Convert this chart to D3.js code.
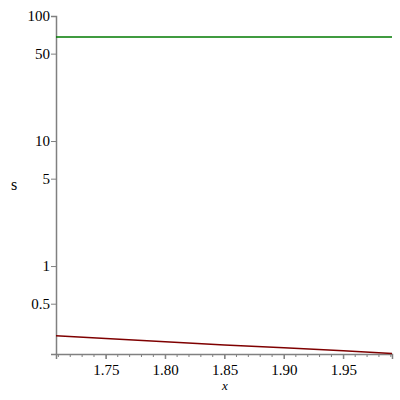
<!DOCTYPE html>
<html><head><meta charset="utf-8">
<script src="https://cdn.jsdelivr.net/npm/d3@7"></script>
</head><body style="margin:0">
<script>
const xVals = [1.708, 1.75, 1.80, 1.85, 1.90, 1.95, 1.991];
const redVals = [0.277, 0.263, 0.248, 0.234, 0.222, 0.210, 0.200];
const greenVals = [67.9, 67.9, 67.9, 67.9, 67.9, 67.9, 67.9];
const xTicks = [1.75, 1.80, 1.85, 1.90, 1.95];
const yTicks = [0.5, 1, 5, 10, 50, 100];
const xDomain = [1.708, 1.991];
const yDomain = [0.198, 100];

const W = 400, H = 400;
const FONT = "Times New Roman";
const svg = d3.select("body").append("svg").attr("width", W).attr("height", H)
  .attr("font-family", FONT);
const x = d3.scaleLinear().domain(xDomain).range([56, 392]);
const y = d3.scaleLog().domain(yDomain).range([354, 16]);
const axisColor = "#808080";

// minor x ticks every 0.01
const minor = d3.range(171, 200).map(d => d / 100);
svg.append("g").selectAll("line").data(minor).join("line")
  .attr("x1", d => x(d)).attr("x2", d => x(d))
  .attr("y1", 354).attr("y2", d => xTicks.some(t => Math.abs(t - d) < 1e-9) ? 359 : 357)
  .attr("stroke", axisColor).attr("stroke-width", 1);

// x axis
const gx = svg.append("g").attr("transform", "translate(0,354)")
  .call(d3.axisBottom(x).tickValues(xTicks).tickFormat(d3.format(".2f")).tickSize(5).tickPadding(5));
gx.attr("font-family", FONT).attr("font-size", 15);
gx.select(".domain").attr("stroke", axisColor).attr("stroke-width", 1.5);
gx.selectAll(".tick line").attr("stroke", axisColor);
gx.selectAll("text").attr("fill", "#000").attr("font-family", FONT).attr("font-size", 15);

// y axis
const gy = svg.append("g").attr("transform", "translate(56,0)")
  .call(d3.axisLeft(y).tickValues(yTicks).tickFormat(d => String(d)).tickSize(5).tickPadding(1));
gy.attr("font-family", FONT).attr("font-size", 15);
gy.select(".domain").attr("stroke", axisColor).attr("stroke-width", 1.5);
gy.selectAll(".tick line").attr("stroke", axisColor);
gy.selectAll("text").attr("fill", "#000").attr("font-family", FONT).attr("font-size", 15);

// lines
const line = vals => d3.line().x((d, i) => x(xVals[i])).y(d => y(d))(vals);
svg.append("path").attr("d", line(greenVals)).attr("fill", "none")
  .attr("stroke", "#007a00").attr("stroke-width", 1.5);
svg.append("path").attr("d", line(redVals)).attr("fill", "none")
  .attr("stroke", "#7f0000").attr("stroke-width", 1.5);

// labels
svg.append("text").attr("x", 14).attr("y", 190).attr("text-anchor", "middle")
  .attr("font-family", FONT).attr("font-size", 16).text("s");
svg.append("text").attr("x", 225).attr("y", 390).attr("text-anchor", "middle")
  .attr("font-family", FONT).attr("font-size", 13).attr("font-style", "italic").text("x");
</script>
</body></html>
